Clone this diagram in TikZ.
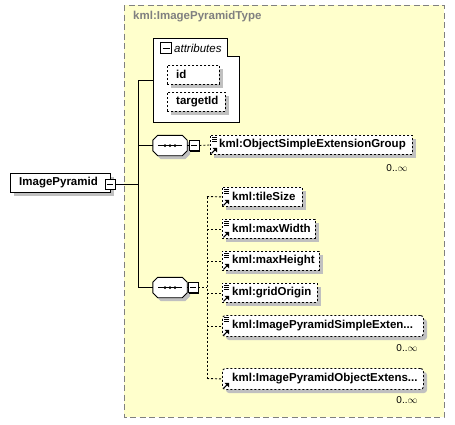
\documentclass[tikz,border=0pt]{standalone}
\usepackage{fontspec}
\setmainfont{Liberation Sans}
\definecolor{bgyellow}{RGB}{255,255,204}
\definecolor{shadowgray}{RGB}{192,192,192}
\definecolor{framegray}{RGB}{128,128,128}
\tikzset{
  conn/.style={line width=1pt},
  dconn/.style={line width=0.9pt, dash pattern=on 2pt off 2pt},
  ebox/.style={draw, fill=white, line width=0.9pt, dash pattern=on 2pt off 2pt},
  lbl/.style={font=\bfseries\fontsize{11.5}{13}\selectfont, anchor=west, inner sep=0pt},
  mult/.style={font=\fontsize{10}{11}\selectfont, anchor=center, inner sep=0pt},
  minusbox/.style={draw, fill=white, line width=0.9pt, minimum size=10pt, inner sep=0pt},
  seqanchor/.style={rectangle, minimum width=34pt, minimum height=20pt, inner sep=0pt},
  eicon/.pic={
    \draw[line width=0.7pt] (2,2.5) -- (7,2.5) (2,4.5) -- (7,4.5) (2,6.5) -- (7,6.5);
  },
  aicon/.pic={
    \draw[line width=1.1pt] (1.5,-1.5) -- (5,-5);
    \fill (7,-7) -- (2.5,-7) -- (7,-2.5) -- cycle;
  }
}
\newcommand{\octpath}[2]{% #1 = node name, #2 = options
  \path[#2] ([xshift=5pt]#1.north west) -- ([xshift=-5pt]#1.north east) -- ([yshift=-5pt]#1.north east) -- ([yshift=5pt]#1.south east) -- ([xshift=-5pt]#1.south east) -- ([xshift=5pt]#1.south west) -- ([yshift=5pt]#1.south west) -- ([yshift=-5pt]#1.north west) -- cycle;
}
\begin{document}
\begin{tikzpicture}[x=1pt,y=-1pt]
\useasboundingbox (0,0) rectangle (455,424);
\fill[white] (0,0) rectangle (455,424);

% type frame
\filldraw[fill=bgyellow, draw=framegray, line width=1pt, dash pattern=on 6pt off 3.5pt] (124,5) rectangle (444,417);
\node[anchor=west, inner sep=0pt, text=framegray, font=\bfseries\fontsize{11.5}{13}\selectfont] (typename) at (133,17) {kml:ImagePyramidType};

% ImagePyramid root
\fill[shadowgray] (14,177) rectangle (114,196);
\node[draw, fill=white, line width=0.9pt, minimum width=100pt, minimum height=19pt, inner sep=0pt, anchor=north west] (root) at (10,173) {};
\node[lbl] (rootlbl) at (19,182.5) {ImagePyramid};
\fill[black] (106,180) rectangle (116,190);
\node[minusbox] (rootminus) at (110,184) {};
\draw[line width=0.9pt] (107,184) -- (113,184);

% trunk
\coordinate (trunk) at (138,184);
\coordinate (attrin) at (153,80);
\draw[conn] (rootminus.east) -- (trunk);
\draw[conn] (attrin) -| (trunk);

% attributes box
\draw[line width=0.9pt, fill=white] (153,38) -- (227,38) -- (227,56) -- (239,56) -- (239,122) -- (153,122) -- cycle;
\node[minusbox, minimum size=11pt] (attrminus) at (166,48) {};
\draw[line width=0.9pt] (162.5,48) -- (169.5,48);
\node[anchor=west, inner sep=0pt, font=\itshape\fontsize{11.5}{13}\selectfont] (attrlbl) at (174,48) {attributes};

\fill[shadowgray] (171,69) rectangle (223,88);
\node[ebox, minimum width=52pt, minimum height=19pt, inner sep=0pt, anchor=north west] (id) at (167,65) {};
\node[lbl] (idlbl) at (176,74.5) {id};
\fill[shadowgray] (171,96) rectangle (229,115);
\node[ebox, minimum width=58pt, minimum height=19pt, inner sep=0pt, anchor=north west] (tid) at (167,92) {};
\node[lbl] (tidlbl) at (176,101.5) {targetId};

% sequence 1
\node[seqanchor] (seq1sh) at (173,149) {};
\octpath{seq1sh}{fill=shadowgray}
\node[seqanchor] (seq1) at (170,145.5) {};
\octpath{seq1}{draw, fill=white, line width=0.9pt}
\draw[line width=1pt] (158,145.5) -- (182,145.5);
\fill (165,145.5) circle (1.5) (170,145.5) circle (1.5) (175,145.5) circle (1.5);
\fill[black] (190,141.5) rectangle (200,151.5);
\node[minusbox] (seq1minus) at (194,145.5) {};
\draw[line width=0.9pt] (191,145.5) -- (197,145.5);
\draw[conn] (trunk |- seq1.west) -- (seq1.west);
\draw[conn] (seq1.east) -- (seq1minus.west);

% ObjectSimpleExtensionGroup
\fill[shadowgray] (214,139) rectangle (416,158);
\node[ebox, minimum width=202pt, minimum height=19pt, inner sep=0pt, anchor=north west] (osg) at (210,135) {};
\pic at (osg.north west) {eicon};
\pic at (osg.south west) {aicon};
\node[lbl] (osglbl) at (219,144.5) {kml:ObjectSimpleExtensionGroup};
\node[mult] (osgm) at (397,168) {0..$\infty$};
\draw[dconn] (seq1minus.east) -- (osg.west);

% sequence 2
\node[seqanchor] (seq2sh) at (173,291) {};
\octpath{seq2sh}{fill=shadowgray}
\node[seqanchor] (seq2) at (170,287.5) {};
\octpath{seq2}{draw, fill=white, line width=0.9pt}
\draw[line width=1pt] (158,287.5) -- (182,287.5);
\fill (165,287.5) circle (1.5) (170,287.5) circle (1.5) (175,287.5) circle (1.5);
\fill[black] (189,283.5) rectangle (199,293.5);
\node[minusbox] (seq2minus) at (193,287.5) {};
\draw[line width=0.9pt] (190,287.5) -- (196,287.5);
\draw[conn] (trunk) |- (seq2.west);
\draw[conn] (seq2.east) -- (seq2minus.west);

\coordinate (vtop) at (207,196.5);
\coordinate (vbot) at (207,378.5);
\coordinate (vmid) at (207,287.5);
\draw[dconn] (seq2minus.east) -- (vmid);
\draw[dconn] (vtop) -- (vbot);

% children
\fill[shadowgray] (226,191) rectangle (306,210);
\node[ebox, minimum width=80pt, minimum height=19pt, inner sep=0pt, anchor=north west] (ts) at (222,187) {};
\pic at (ts.north west) {eicon};
\pic at (ts.south west) {aicon};
\node[lbl] (tslbl) at (232,196.5) {kml:tileSize};
\draw[dconn] (vtop) -- (ts.west);

\fill[shadowgray] (226,223) rectangle (319,242);
\node[ebox, minimum width=93pt, minimum height=19pt, inner sep=0pt, anchor=north west] (mw) at (222,219) {};
\pic at (mw.north west) {eicon};
\pic at (mw.south west) {aicon};
\node[lbl] (mwlbl) at (232,228.5) {kml:maxWidth};
\draw[dconn] (vtop |- mw.west) -- (mw.west);

\fill[shadowgray] (226,255) rectangle (323,274);
\node[ebox, minimum width=97pt, minimum height=19pt, inner sep=0pt, anchor=north west] (mh) at (222,251) {};
\pic at (mh.north west) {eicon};
\pic at (mh.south west) {aicon};
\node[lbl] (mhlbl) at (232,260.5) {kml:maxHeight};
\draw[dconn] (vtop |- mh.west) -- (mh.west);

\fill[shadowgray] (226,287) rectangle (321,306);
\node[ebox, minimum width=95pt, minimum height=19pt, inner sep=0pt, anchor=north west] (go) at (222,283) {};
\pic at (go.north west) {eicon};
\pic at (go.south west) {aicon};
\node[lbl] (golbl) at (232,292.5) {kml:gridOrigin};
\draw[dconn] (vtop |- go.west) -- (go.west);

\fill[shadowgray, rounded corners=3pt] (226,319) rectangle (427,340);
\node[ebox, rounded corners=3pt, minimum width=201pt, minimum height=21pt, inner sep=0pt, anchor=north west] (ps) at (222,315) {};
\pic at (ps.north west) {eicon};
\pic at (ps.south west) {aicon};
\node[lbl] (pslbl) at (232,325.5) {kml:ImagePyramidSimpleExten...};
\node[mult] (psm) at (407,348) {0..$\infty$};
\draw[dconn] (vtop |- ps.west) -- (ps.west);

\fill[shadowgray, rounded corners=3pt] (226,372) rectangle (427,393);
\node[ebox, rounded corners=3pt, minimum width=201pt, minimum height=21pt, inner sep=0pt, anchor=north west] (po) at (222,368) {};
\pic at (po.south west) {aicon};
\node[lbl] (polbl) at (232,378.5) {kml:ImagePyramidObjectExtens...};
\node[mult] (pom) at (407,400) {0..$\infty$};
\draw[dconn] (vbot) -- (po.west);
\end{tikzpicture}
\end{document}
